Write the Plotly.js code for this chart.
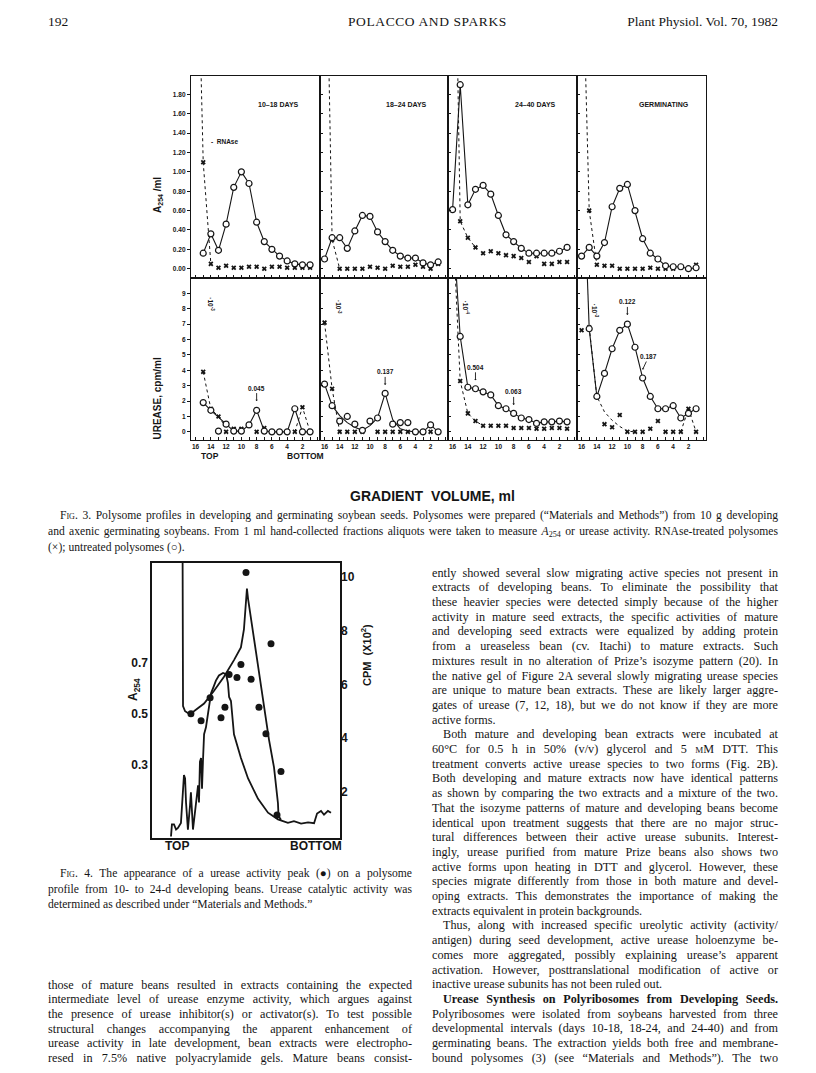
<!DOCTYPE html>
<html>
<head>
<meta charset="utf-8">
<script src="https://cdn.plot.ly/plotly-3.0.1.min.js"></script>
<style>
  body { margin: 0; background: #fff; }
  #page { position: relative; width: 816px; height: 1073px; overflow: hidden; background: #fff; }
  #chart { position: absolute; left: 0; top: 0; width: 816px; height: 1073px; }
  .ln { position: absolute; white-space: nowrap; font-family: "Liberation Serif", "Times New Roman", serif; color: #151515; }
  .ln sub { font-size: 70%; vertical-align: -0.3em; line-height: 0; }
  .sc { font-variant: small-caps; }
</style>
</head>
<body>
<div id="page"><div id="chart"></div></div>
<script>
// ---------- data ----------
// gradient fractions, ml counted from the top of the gradient
const ml16 = [16, 15, 14, 13, 12, 11, 10, 9, 8, 7, 6, 5, 4, 3, 2, 1];
const ml15 = [15, 14, 13, 12, 11, 10, 9, 8, 7, 6, 5, 4, 3, 2, 1];
const mlLabels = [16, 14, 12, 10, 8, 6, 4, 2];

// A254/ml, untreated polysomes (o) and RNAse treated (x)
const a254_10_18  = [0.16, 0.36, 0.19, 0.46, 0.84, 1.00, 0.88, 0.48, 0.28, 0.20, 0.13, 0.08, 0.05, 0.04, 0.04];
const a254R_10_18 = [1.10, 0.05, 0.01, 0.03, 0.01, 0.01, 0.02, 0.02, 0.00, 0.02, 0.02, 0.01, 0.01, 0.01, 0.01];
const a254_18_24  = [0.10, 0.32, 0.32, 0.21, 0.39, 0.55, 0.54, 0.38, 0.28, 0.19, 0.13, 0.11, 0.11, 0.06, 0.04, 0.07];
const a254R_18_24 = [0.30, 0.00, 0.00, 0.00, 0.00, 0.02, 0.01, 0.00, 0.03, 0.02, 0.02, 0.04, 0.02, 0.00, 0.05];
const a254_24_40  = [0.61, 1.90, 0.66, 0.82, 0.86, 0.77, 0.55, 0.35, 0.28, 0.21, 0.16, 0.16, 0.16, 0.16, 0.18, 0.22];
const a254R_24_40 = [0.49, 0.32, 0.22, 0.16, 0.18, 0.16, 0.14, 0.13, 0.11, 0.07, 0.13, 0.05, 0.05, 0.07, 0.07];
const a254_germ   = [0.13, 0.22, 0.13, 0.27, 0.64, 0.83, 0.87, 0.60, 0.31, 0.16, 0.10, 0.03, 0.02, 0.02, 0.00, 0.01];
const a254R_germ  = [0.60, 0.04, 0.03, 0.03, 0.00, 0.00, 0.00, 0.00, 0.01, 0.00, 0.00, 0.00, 0.01, 0.00, 0.04];

// dotted RNAse traces coming down from off the top of each A254 panel
const rnaseTopMl_10_18 = [15.4, 15, 14];       const rnaseTop_10_18 = [2.4, 1.10, 0.05];
const rnaseTopMl_18_24 = [15.5, 15, 14];       const rnaseTop_18_24 = [2.4, 0.30, 0.00];
const rnaseTopMl_24_40 = [15.4, 15, 14, 13];   const rnaseTop_24_40 = [2.4, 0.49, 0.32, 0.22];
const rnaseTopMl_germ  = [15.6, 15, 14];       const rnaseTop_germ  = [2.4, 0.60, 0.04];

// urease, cpm/ml
const cpm_10_18  = [1.9, 1.4, 0.05, 0.5, 0.05, 0.05, 0.45, 1.4, 0.05, 0.0, 0.0, 0.0, 1.5, 0.0, 0.0];
const cpmR_10_18 = [3.9, 1.5, 1.0, 0.0, 0.2, 0.2, 0.4, 0.0, 0.25, 0.0, 0.0, 0.0, 0.0, 1.6, 0.0];
const cpmLineMl_10_18 = [15, 14, 12, 11, 10, 9, 8, 7, 6, 5, 4, 3, 2, 1];
const cpmLine_10_18   = [1.9, 1.4, 0.5, 0.05, 0.05, 0.45, 1.4, 0.05, 0.0, 0.0, 0.0, 1.5, 0.0, 0.0];
const cpmDotMl_10_18  = [15, 14, 13, 12, null, 3, 2, 1];
const cpmDot_10_18    = [3.9, 1.5, 1.0, 0.3, null, 0.0, 1.6, 0.0];

const cpm_18_24  = [3.1, 1.7, 0.7, 1.0, 0.5, 0.1, 0.7, 0.9, 2.5, 0.5, 0.6, 0.6, 0.0, 0.0, 0.45, 0.0];
const cpmR_18_24 = [7.1, 2.8, 0.0, 0.0, 0.0, 0.0, 0.7, 0.0, 0.0, 0.0, 0.0, 0.0, 0.0, 0.0, 0.0, 0.0];
const cpmLine_18_24 = [3.1, 1.7, 1.05, 0.6, 0.3, 0.1, 0.4, 0.9, 2.5, 0.8, 0.2, 0.05, 0.0, 0.0, 0.45, 0.0];
const cpmDotMl_18_24 = [16, 15, 14];
const cpmDot_18_24   = [7.1, 2.8, 0.0];

const cpm_24_40  = [6.2, 2.9, 2.8, 2.6, 2.4, 1.7, 1.5, 1.2, 0.9, 0.8, 0.55, 0.65, 0.65, 0.7, 0.65];
const cpmR_24_40 = [3.3, 1.2, 0.7, 0.4, 0.4, 0.4, 0.4, 0.25, 0.25, 0.25, 0.2, 0.2, 0.25, 0.25, 0.2];
const cpmTopMl_24_40 = [15.6, 15];  const cpmTop_24_40 = [10.8, 6.2];
const cpmDotMl_24_40 = [15.7, 15, 14, 13, 12];
const cpmDot_24_40   = [10.8, 3.3, 1.2, 0.7, 0.4];

const cpm_germ  = [6.7, 2.3, 3.8, 5.4, 6.6, 7.0, 5.5, 3.5, 2.3, 1.5, 1.5, 1.7, 0.9, 1.2, 1.5];
const cpmR_germ = [6.6, 6.8, 2.3, 0.5, 0.3, 1.1, 0.0, 0.0, 0.0, 0.2, 0.7, 0.0, 0.0, 0.0, 1.5, 0.0];
const cpmTopMl_germ = [15.3, 15];  const cpmTop_germ = [10.8, 6.7];
const cpmDotMl_germ = [15, 14, 13, 12, 11, 10, 9, null, 3, 2, 1];
const cpmDot_germ   = [6.8, 2.3, 1.3, 0.75, 0.35, 0.05, 0.0, null, 0.0, 1.5, 0.0];

// Fig. 4: position along the gradient (0 = top, 100 = bottom)
const profilePos = [10.1, 10.6, 11.7, 12.8, 13.8, 15.4, 17.0, 17.6, 18.1, 19.1, 20.2, 20.7, 21.8, 23.4, 24.5, 25.0,
  25.5, 26.1, 26.6, 27.1, 27.7, 28.7, 29.8, 31.4, 33.0, 34.0, 35.6, 37.8, 39.4, 40.4, 41.0, 42.0, 43.6, 47.3, 51.1,
  56.4, 61.7, 67.0, 72.3, 75.5, 79.3, 83.0, 86.2, 87.8, 89.9, 91.5, 93.6, 95.2];
const profileA254 = [0.02, 0.067, 0.067, 0.047, 0.053, 0.073, 0.26, 0.247, 0.153, 0.047, 0.14, 0.193, 0.047, 0.167,
  0.22, 0.153, 0.313, 0.327, 0.207, 0.313, 0.42, 0.447, 0.507, 0.58, 0.61, 0.63, 0.65, 0.66, 0.655, 0.62, 0.566,
  0.55, 0.42, 0.327, 0.247, 0.167, 0.113, 0.087, 0.073, 0.08, 0.07, 0.075, 0.072, 0.11, 0.12, 0.105, 0.12, 0.113];
const peakPos  = [16.2, 16.5, 17.6, 19.7, 22.3, 27.7, 33.0, 38.3, 43.6, 47.3, 48.9, 50.5, 51.1, 52.7, 55.3, 58.0,
  60.6, 62.2, 64.9, 67.0, 67.3, 68.6];
const peakA254 = [1.30, 0.53, 0.51, 0.50, 0.51, 0.54, 0.59, 0.645, 0.71, 0.76, 0.83, 0.99, 0.95, 0.87, 0.74, 0.60,
  0.47, 0.40, 0.29, 0.15, 0.10, 0.085];
const ureasePos = [20.7, 26.1, 30.9, 36.7, 38.8, 41.0, 45.2, 47.3, 50.0, 52.7, 56.9, 60.6, 63.3, 66.5, 68.6];
const ureaseCpm = [4.91, 4.65, 5.51, 4.76, 5.15, 6.37, 6.26, 6.74, 10.17, 6.2, 5.15, 4.17, 7.52, 1.15, 2.76];

const panelTitles = ['10\u201318 DAYS', '18\u201324 DAYS', '24\u201340 DAYS', 'GERMINATING'];

// ---------- page geometry ----------
const W = 816, H = 1073;
const px = v => v / W;
const py = v => 1 - v / H;
const colEdges = [191, 320, 448, 577, 706];
const rowEdges = [76, 278, 440];
const ink = '#151515';
const sans = 'Liberation Sans, Arial, sans-serif';

const panels = [
  { open: a254_10_18, openX: ml15, cross: a254R_10_18, crossX: ml15, dotX: rnaseTopMl_10_18, dotY: rnaseTop_10_18 },
  { open: a254_18_24, openX: ml16, cross: a254R_18_24, crossX: ml15, dotX: rnaseTopMl_18_24, dotY: rnaseTop_18_24 },
  { open: a254_24_40, openX: ml16, cross: a254R_24_40, crossX: ml15, dotX: rnaseTopMl_24_40, dotY: rnaseTop_24_40 },
  { open: a254_germ,  openX: ml16, cross: a254R_germ,  crossX: ml15, dotX: rnaseTopMl_germ,  dotY: rnaseTop_germ },
  { open: cpm_10_18, openX: ml15, cross: cpmR_10_18, crossX: ml15, lineX: cpmLineMl_10_18, lineY: cpmLine_10_18,
    dotX: cpmDotMl_10_18, dotY: cpmDot_10_18 },
  { open: cpm_18_24, openX: ml16, cross: cpmR_18_24, crossX: ml16, lineX: ml16, lineY: cpmLine_18_24,
    dotX: cpmDotMl_18_24, dotY: cpmDot_18_24 },
  { open: cpm_24_40, openX: ml15, cross: cpmR_24_40, crossX: ml15, topX: cpmTopMl_24_40, topY: cpmTop_24_40,
    dotX: cpmDotMl_24_40, dotY: cpmDot_24_40 },
  { open: cpm_germ, openX: ml15, cross: cpmR_germ, crossX: ml16, topX: cpmTopMl_germ, topY: cpmTop_germ,
    dotX: cpmDotMl_germ, dotY: cpmDot_germ }
];

const data = [];
const layout = {
  width: W, height: H,
  margin: { l: 0, r: 0, t: 0, b: 0 },
  paper_bgcolor: 'rgba(0,0,0,0)',
  plot_bgcolor: 'rgba(0,0,0,0)',
  showlegend: false,
  font: { family: sans, color: ink },
  annotations: []
};

panels.forEach((p, i) => {
  const n = i + 1;
  const sfx = n === 1 ? '' : String(n);
  const xa = 'x' + sfx, ya = 'y' + sfx;
  const row = Math.floor(i / 4), col = i % 4;

  if (p.dotX) data.push({ x: p.dotX, y: p.dotY, xaxis: xa, yaxis: ya, type: 'scatter', mode: 'lines',
    line: { color: ink, width: 1, dash: 'dot' }, connectgaps: false });
  if (p.topX) data.push({ x: p.topX, y: p.topY, xaxis: xa, yaxis: ya, type: 'scatter', mode: 'lines',
    line: { color: ink, width: 1.1 } });
  data.push({ x: p.lineX || p.openX, y: p.lineY || p.open, xaxis: xa, yaxis: ya, type: 'scatter', mode: 'lines',
    line: { color: ink, width: 1.1 } });
  data.push({ x: p.crossX, y: p.cross, xaxis: xa, yaxis: ya, type: 'scatter', mode: 'markers',
    marker: { symbol: 'x', size: 4.5, color: ink, line: { width: 0 } } });
  data.push({ x: p.openX, y: p.open, xaxis: xa, yaxis: ya, type: 'scatter', mode: 'markers',
    marker: { symbol: 'circle', size: 6, color: '#fff', line: { color: ink, width: 1.2 } } });

  const tickFont = { family: sans, size: 6.5, color: ink, weight: 'bold' };
  layout['xaxis' + sfx] = {
    domain: [px(colEdges[col]), px(colEdges[col + 1])], anchor: ya,
    range: [16.6, -0.3], tickmode: 'array', tickvals: mlLabels, ticktext: mlLabels.map(String),
    showticklabels: row === 1, ticks: 'inside', ticklen: 3, tickwidth: 1, tickcolor: ink,
    minor: { tickmode: 'linear', tick0: 0, dtick: 1, ticks: 'inside', ticklen: 3, tickwidth: 1, tickcolor: ink },
    showline: true, mirror: true, linecolor: ink, linewidth: 1.2,
    showgrid: false, zeroline: false, tickfont: tickFont, fixedrange: true
  };
  const yTop = row === 0;
  const yv = yTop ? [0, 0.2, 0.4, 0.6, 0.8, 1.0, 1.2, 1.4, 1.6, 1.8] : [0, 1, 2, 3, 4, 5, 6, 7, 8, 9];
  layout['yaxis' + sfx] = {
    domain: [py(rowEdges[row + 1]), py(rowEdges[row])], anchor: xa,
    range: yTop ? [-0.096, 1.99] : [-0.53, 10.0],
    tickmode: 'array', tickvals: yv, ticktext: yv.map(v => (yTop ? v.toFixed(2) : String(v))),
    showticklabels: col === 0, ticks: col === 0 ? 'outside' : 'inside', ticklen: 3, tickwidth: 1, tickcolor: ink,
    showline: true, mirror: true, linecolor: ink, linewidth: 1.2,
    showgrid: false, zeroline: false, tickfont: tickFont, fixedrange: true
  };

  if (yTop) {
    layout.annotations.push({ xref: xa, yref: 'paper', x: 5.2, y: py(99), text: '<b>' + panelTitles[col] + '</b>',
      showarrow: false, font: { family: sans, size: 7, color: ink } });
  }
});

// labels inside the panels
const A = layout.annotations;
const small = { family: sans, size: 6.5, color: ink };
A.push({ xref: 'x', yref: 'y', x: 14.2, y: 1.31, xanchor: 'left', text: '<b>-  RNAse</b>', showarrow: false, font: small });
[['x5', 'y5', 14.0, 8.3, '-3'], ['x6', 'y6', 14.2, 8.1, '-3'], ['x7', 'y7', 14.3, 8.1, '-4'], ['x8', 'y8', 14.3, 7.9, '-3']]
  .forEach(r => A.push({ xref: r[0], yref: r[1], x: r[2], y: r[3], text: '<b>\u00b710<sup>' + r[4] + '</sup></b>',
    textangle: 90, showarrow: false, font: small }));
[['x5', 'y5', 8, 2.0, '0.045'], ['x6', 'y6', 8, 3.05, '0.137'], ['x7', 'y7', 13, 3.35, '0.504'],
 ['x7', 'y7', 8, 1.75, '0.063'], ['x8', 'y8', 10, 7.6, '0.122'], ['x8', 'y8', 8, 4.05, '0.187']]
  .forEach(r => A.push({ xref: r[0], yref: r[1], x: r[2], y: r[3], text: '<b>' + r[4] + '</b>', showarrow: true,
    arrowhead: 1, arrowsize: 0.5, arrowwidth: 0.9, arrowcolor: ink, ax: r[4] === '0.187' ? 6 : 0, ay: -13,
    font: small }));

// figure-wide labels
A.push({ xref: 'paper', yref: 'paper', x: px(150), y: py(175), text: '<b>A<sub>254</sub> /ml</b>', textangle: -90,
  showarrow: false, font: { family: sans, size: 10, color: ink } });
A.push({ xref: 'paper', yref: 'paper', x: px(150), y: py(356), text: '<b>UREASE, cpm/ml</b>', textangle: -90,
  showarrow: false, font: { family: sans, size: 10, color: ink } });
A.push({ xref: 'paper', yref: 'paper', x: px(199), y: py(456), text: '<b>TOP</b>', showarrow: false,
  font: { family: sans, size: 8.5, color: ink } });
A.push({ xref: 'paper', yref: 'paper', x: px(305), y: py(456), text: '<b>BOTTOM</b>', showarrow: false,
  font: { family: sans, size: 8.5, color: ink } });
A.push({ xref: 'paper', yref: 'paper', x: px(432), y: py(496), text: '<b>GRADIENT  VOLUME, ml</b>', showarrow: false,
  font: { family: sans, size: 14, color: ink } });

// ---------- Fig. 4 ----------
const f4 = { l: 152, r: 340, t: 563, b: 838 };
data.push({ x: profilePos, y: profileA254, xaxis: 'x9', yaxis: 'y9', type: 'scatter', mode: 'lines',
  line: { color: ink, width: 1.8 } });
data.push({ x: peakPos, y: peakA254, xaxis: 'x9', yaxis: 'y9', type: 'scatter', mode: 'lines',
  line: { color: ink, width: 1.8 } });
data.push({ x: ureasePos, y: ureaseCpm, xaxis: 'x9', yaxis: 'y10', type: 'scatter', mode: 'markers',
  marker: { symbol: 'circle', size: 7, color: ink } });

const bigFont = { family: sans, size: 12, color: ink, weight: 'bold' };
layout.xaxis9 = { domain: [px(f4.l), px(f4.r)], anchor: 'y9', range: [0, 100], showticklabels: false, ticks: '',
  showline: true, mirror: true, linecolor: ink, linewidth: 1.6, showgrid: false, zeroline: false, fixedrange: true };
layout.yaxis9 = { domain: [py(f4.b), py(f4.t)], anchor: 'x9', range: [0.014, 1.09], tickmode: 'array',
  tickvals: [0.3, 0.5, 0.7], ticktext: ['0.3', '0.5', '0.7'], ticks: '', showline: true, mirror: true,
  linecolor: ink, linewidth: 1.6, showgrid: false, zeroline: false, tickfont: bigFont, fixedrange: true };
layout.yaxis10 = { overlaying: 'y9', side: 'right', anchor: 'x9', range: [0.29, 10.52], tickmode: 'array',
  tickvals: [2, 4, 6, 8, 10], ticks: '', showline: false, showgrid: false, zeroline: false, tickfont: bigFont,
  fixedrange: true };

A.push({ xref: 'paper', yref: 'paper', x: px(124), y: py(690), text: '<b>A<sub>254</sub></b>', textangle: -90,
  showarrow: false, font: { family: sans, size: 12, color: ink } });
A.push({ xref: 'paper', yref: 'paper', x: px(366), y: py(655), text: '<b>CPM  (X10<sup>2</sup>)</b>', textangle: -90,
  showarrow: false, font: { family: sans, size: 11, color: ink } });
A.push({ xref: 'paper', yref: 'paper', x: px(163), y: py(855), text: '<b>TOP</b>', showarrow: false,
  font: { family: sans, size: 12, color: ink } });
A.push({ xref: 'paper', yref: 'paper', x: px(316), y: py(855), text: '<b>BOTTOM</b>', showarrow: false,
  font: { family: sans, size: 12, color: ink } });

Plotly.newPlot('chart', data, layout, { staticPlot: true, displayModeBar: false });

// ---------- page text ----------
const page = document.getElementById('page');
function line(html, x, y, size, width, opts) {
  opts = opts || {};
  const d = document.createElement('div');
  d.className = 'ln';
  d.style.fontSize = size + 'px';
  d.style.lineHeight = (size * 1.2) + 'px';
  d.style.left = (x + (opts.indent || 0)) + 'px';
  d.style.top = (y - size * 0.6) + 'px';
  if (opts.bold) d.style.fontWeight = 'bold';
  if (opts.spacing) d.style.letterSpacing = opts.spacing + 'px';
  d.innerHTML = html;
  page.appendChild(d);
  if (width && !opts.ragged) {
    const target = width - (opts.indent || 0);
    const natural = d.getBoundingClientRect().width;
    const gaps = (d.textContent.match(/ /g) || []).length;
    if (gaps) d.style.wordSpacing = ((target - natural) / gaps) + 'px';
  }
  return d;
}

// running head
line('192', 48, 22, 13.5);
line('POLACCO AND SPARKS', 348, 22, 13.5, 0, { spacing: 0.6 });
const head = line('Plant Physiol. Vol. 70, 1982', 0, 22, 13.5);
head.style.left = (778 - head.getBoundingClientRect().width) + 'px';

// Fig. 3 caption
const cap3 = [
  '<span class="sc">Fig.</span> 3. Polysome profiles in developing and germinating soybean seeds. Polysomes were prepared (\u201cMaterials and Methods\u201d) from 10 g developing',
  'and axenic germinating soybeans. From 1 ml hand-collected fractions aliquots were taken to measure <i>A</i><sub>254</sub> or urease activity. RNAse-treated polysomes',
  '(\u00d7); untreated polysomes (\u25cb).'
];
cap3.forEach((t, i) => line(t, 48, 516 + i * 16, 11.6, 730, { indent: i === 0 ? 12 : 0, ragged: i === 2 }));

// Fig. 4 caption
const cap4 = [
  '<span class="sc">Fig.</span> 4. The appearance of a urease activity peak (\u25cf) on a polysome',
  'profile from 10- to 24-d developing beans. Urease catalytic activity was',
  'determined as described under \u201cMaterials and Methods.\u201d'
];
cap4.forEach((t, i) => line(t, 48, 874 + i * 15.5, 11.6, 364, { indent: i === 0 ? 12 : 0, ragged: i === 2 }));

// left column text
const leftText = [
  'those of mature beans resulted in extracts containing the expected',
  'intermediate level of urease enzyme activity, which argues against',
  'the presence of urease inhibitor(s) or activator(s). To test possible',
  'structural changes accompanying the apparent enhancement of',
  'urease activity in late development, bean extracts were electropho-',
  'resed in 7.5% native polyacrylamide gels. Mature beans consist-'
];
leftText.forEach((t, i) => line(t, 48, 985 + i * 14.7, 12.2, 364));

// right column text
const rightText = [
  'ently showed several slow migrating active species not present in',
  'extracts of developing beans. To eliminate the possibility that',
  'these heavier species were detected simply because of the higher',
  'activity in mature seed extracts, the specific activities of mature',
  'and developing seed extracts were equalized by adding protein',
  'from a ureaseless bean (cv. Itachi) to mature extracts. Such',
  'mixtures result in no alteration of Prize\u2019s isozyme pattern (20). In',
  'the native gel of Figure 2A several slowly migrating urease species',
  'are unique to mature bean extracts. These are likely larger aggre-',
  'gates of urease (7, 12, 18), but we do not know if they are more',
  'active forms.',
  'Both mature and developing bean extracts were incubated at',
  '60\u00b0C for 0.5 h in 50% (v/v) glycerol and 5 <span class="sc">m</span>M DTT. This',
  'treatment converts active urease species to two forms (Fig. 2B).',
  'Both developing and mature extracts now have identical patterns',
  'as shown by comparing the two extracts and a mixture of the two.',
  'That the isozyme patterns of mature and developing beans become',
  'identical upon treatment suggests that there are no major struc-',
  'tural differences between their active urease subunits. Interest-',
  'ingly, urease purified from mature Prize beans also shows two',
  'active forms upon heating in DTT and glycerol. However, these',
  'species migrate differently from those in both mature and devel-',
  'oping extracts. This demonstrates the importance of making the',
  'extracts equivalent in protein backgrounds.',
  'Thus, along with increased specific ureolytic activity (activity/',
  'antigen) during seed development, active urease holoenzyme be-',
  'comes more aggregated, possibly explaining urease\u2019s apparent',
  'activation. However, posttranslational modification of active or',
  'inactive urease subunits has not been ruled out.',
  '<b>Urease Synthesis on Polyribosomes from Developing Seeds.</b>',
  'Polyribosomes were isolated from soybeans harvested from three',
  'developmental intervals (days 10-18, 18-24, and 24-40) and from',
  'germinating beans. The extraction yields both free and membrane-',
  'bound polysomes (3) (see \u201cMaterials and Methods\u201d). The two'
];
const paraEnd = [10, 23, 28];
const paraStart = [11, 24, 29];
rightText.forEach((t, i) => line(t, 432, 573 + i * 14.7, 12.2, 346,
  { indent: paraStart.includes(i) ? 11 : 0, ragged: paraEnd.includes(i) }));
</script>
</body>
</html>
